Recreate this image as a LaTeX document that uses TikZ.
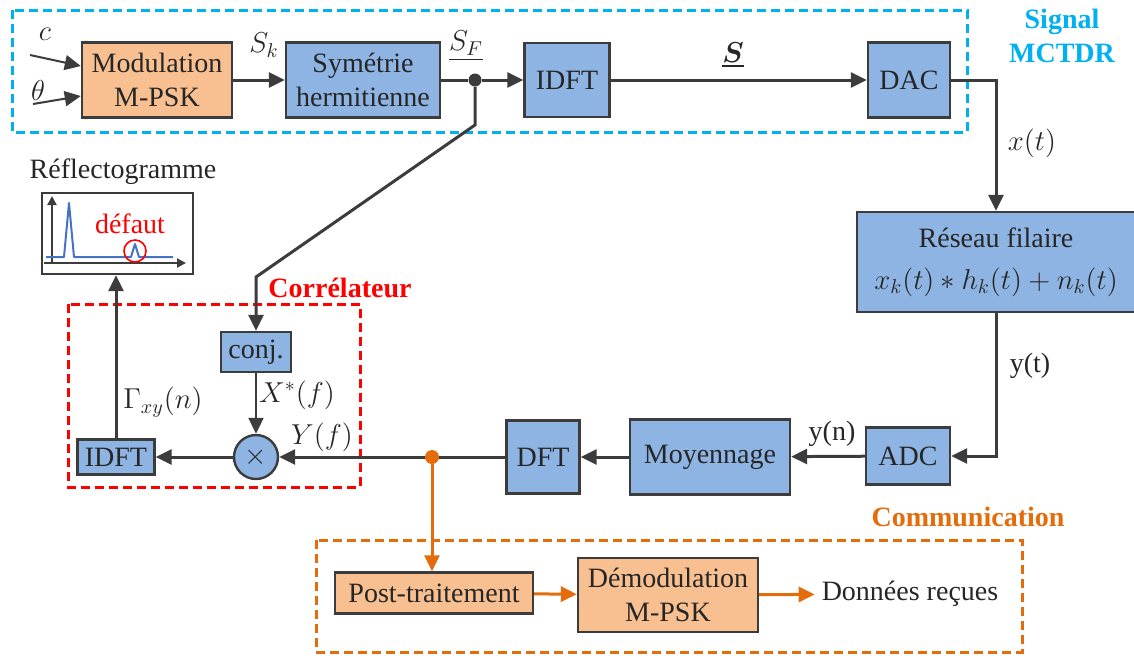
\documentclass[tikz,border=0pt]{standalone}
\usepackage{amsmath}
\usepackage{fontspec}
\setmainfont{Liberation Serif}
\usepackage{xcolor}
\usetikzlibrary{positioning,arrows.meta}

\definecolor{boxblue}{RGB}{142,180,227}
\definecolor{boxorange}{RGB}{248,192,144}
\definecolor{edge}{RGB}{60,60,60}
\definecolor{mctdr}{RGB}{0,176,240}
\definecolor{comm}{RGB}{228,108,10}
\definecolor{plotblue}{RGB}{68,114,196}

\begin{document}
\begin{tikzpicture}[x=0.5pt,y=-0.5pt,>={Triangle[length=8pt,width=7.5pt]},
  every node/.style={font=\fontsize{14}{17}\selectfont,align=center,text=black!85},
  blk/.style={draw=edge,line width=1.2pt,fill=boxblue,inner sep=0pt},
  oblk/.style={blk,fill=boxorange},
  wire/.style={draw=edge,line width=1.5pt},
  owire/.style={draw=comm,line width=1.5pt},
  group/.style={line width=1.5pt,dash pattern=on 4.5pt off 2.5pt},
  grplbl/.style={font=\fontsize{14}{17}\selectfont\bfseries}]
  \useasboundingbox (0,0) rectangle (1134,655);

  % Signal MCTDR: emission chain
  \draw[group,draw=mctdr] (12,10) rectangle (967,132);
  \node (sigtitle) [grplbl,text=mctdr] at (1062,36) {Signal\\MCTDR};
  \node (cin) at (45,34) {$c$};
  \node (thetain) at (38,90) {$\theta$};
  \coordinate (cstart) at (30,55);
  \coordinate (tstart) at (33,104);
  \node (mod) [oblk,minimum width=75pt,minimum height=37.5pt] at (157,80) {Modulation\\M-PSK};
  \node (sk) at (264,45) {$S_k$};
  \node (sym) [blk,minimum width=77pt,minimum height=37.5pt] at (363,80) {Symétrie\\hermitienne};
  \node (sf) at (466,46) {$\underline{S_F}$};
  \node (sfdot) [circle,fill=edge,inner sep=0pt,minimum size=6.5pt] at (475,80) {};
  \node (idftA) [blk,minimum width=42.5pt,minimum height=37pt] at (567,80) {IDFT};
  \node (slbl) at (733,55) {$\underline{\boldsymbol{S}}$};
  \node (dac) [blk,minimum width=41pt,minimum height=37.5pt] at (909,80) {DAC};

  % channel and reception
  \node (xt) at (1032,143) {$x(t)$};
  \node (reseau) [blk,minimum width=139pt,minimum height=50pt] at (996,262) {Réseau filaire\\[4pt]$x_k(t)\ast h_k(t)+n_k(t)$};
  \node (yt) at (1030,366) {y(t)};
  \node (adc) [blk,minimum width=42pt,minimum height=28.5pt] at (908,456) {ADC};
  \node (yn) at (832,434) {y(n)};
  \node (moy) [blk,minimum width=80pt,minimum height=37.5pt] at (710,457) {Moyennage};
  \node (dft) [blk,minimum width=36.5pt,minimum height=36.5pt] at (543,457) {DFT};
  \coordinate (odot) at (432,457);

  % correlator
  \draw[group,draw=red] (68,304) rectangle (360,487);
  \node (cortitle) [grplbl,text=red] at (340,288) {Corrélateur};
  \node (conj) [blk,minimum width=35pt,minimum height=20pt] at (256,352) {conj.};
  \node (xf) at (297,395) {$X^*(f)$};
  \node (yf) at (322,437) {$Y(f)$};
  \node (times) [blk,circle,minimum size=22pt] at (256,457) {$\times$};
  \node (idftB) [blk,minimum width=38.5pt,minimum height=17.5pt] at (116,457) {IDFT};
  \node (gam) at (163,402) {$\Gamma_{xy}(n)$};

  % reflectogram
  \node (refltitle) at (123,172) {Réflectogramme};
  \node (refl) [draw=edge,line width=1.2pt,minimum width=75.5pt,minimum height=40.5pt] at (117.5,233.5) {};
  \draw[edge,line width=1pt,-{Triangle[length=4.5pt,width=4.5pt]}] (52,263) -- (52,196);
  \draw[edge,line width=1pt,-{Triangle[length=4.5pt,width=4.5pt]}] (44,263) -- (186,263);
  \draw[plotblue,line width=1pt,line join=round] (46,257) -- (64,257) -- (69,203) -- (74,257)
    -- (131,257) -- (135,244) -- (139,257) -- (173,257);
  \node (defaut) [text=red] at (130,224) {défaut};
  \draw[red,line width=0.8pt] (135,251) circle[radius=5.5pt];

  % communication
  \draw[group,draw=comm] (316,540) rectangle (1022,652);
  \node (commtitle) [grplbl,text=comm] at (968,517) {Communication};
  \node (post) [oblk,minimum width=99pt,minimum height=20.5pt] at (434,593) {Post-traitement};
  \node (demod) [oblk,minimum width=90pt,minimum height=37pt] at (668,595) {Démodulation\\M-PSK};
  \node (donnees) at (910,594) {Données reçues};

  \draw[wire,line width=1pt,->] (cstart) -- (mod.west |- 0,66);
  \draw[wire,line width=1pt,->] (tstart) -- (mod.west |- 0,96);
  \draw[wire,->] (mod) -- (sym);
  \draw[wire] (sym.east) -- (sfdot);
  \draw[wire,->] (sfdot) -- (idftA);
  \draw[wire,->] (idftA) -- (dac);
  \draw[wire,->] (dac.east) -| (reseau.north);
  \draw[wire,->] (reseau.south) |- (adc.east);
  \draw[wire,->] (adc) -- (moy);
  \draw[wire,->] (moy) -- (dft);
  \draw[wire,->] (dft.west) -- (times.east);
  \draw[wire,->] (sfdot) -- ++(0,45) -- (conj.north |- 0,277) -- (conj.north);
  \draw[wire,line width=1pt,->] (conj) -- (times);
  \draw[wire,->] (times) -- (idftB);
  \draw[wire,->] (idftB.north) -- (idftB.north |- refl.south);
  \node (obranch) [circle,fill=comm,inner sep=0pt,minimum size=7pt] at (odot) {};
  \draw[owire,->] (obranch) -- (obranch |- post.north);
  \draw[owire,->] (post) -- (demod);
  \draw[owire,->] (demod) -- (donnees);
\end{tikzpicture}
\end{document}
